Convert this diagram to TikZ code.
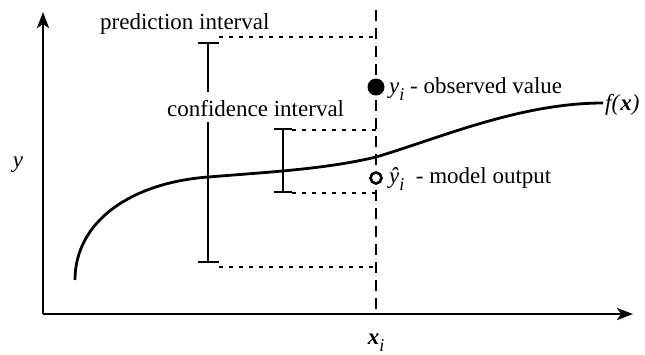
\documentclass[tikz,border=0pt]{standalone}
\usepackage{fontspec}
\setmainfont{Liberation Serif}
\usetikzlibrary{arrows.meta}
\newcommand\subidx{\raisebox{-7pt}{\fontsize{18}{18}\selectfont\textit{i}}}
\begin{document}
\begin{tikzpicture}[x=1pt,y=-1pt,
  lbl/.style={font=\fontsize{23}{27}\selectfont, inner sep=0pt},
  axis/.style={line width=2.8pt, -{Stealth[length=16pt,width=12pt,inset=4pt]}},
  bar/.style={line width=2.8pt},
  dotline/.style={line width=2.4pt, dash pattern=on 4pt off 6pt},
  dashline/.style={line width=2.4pt, dash pattern=on 11pt off 7pt},
  curve/.style={line width=2.8pt}]
\useasboundingbox (0,0) rectangle (645,354);
% axes
\coordinate (O) at (43,314);
\coordinate (ytip) at (43,12);
\coordinate (xtip) at (633,314);
\draw[axis] (O) -- (ytip);
\draw[axis] (O) -- (xtip);
% vertical dashed line at x_i
\coordinate (vtop) at (376,10);
\coordinate (vbot) at (376,314);
\draw[dashline] (vtop) -- (vbot);
% dotted guide lines
\coordinate (p1) at (219,37);  \coordinate (p1e) at (376,37);
\coordinate (p2) at (219,267); \coordinate (p2e) at (376,267);
\coordinate (c1) at (292,130); \coordinate (c1e) at (376,130);
\coordinate (c2) at (292,193); \coordinate (c2e) at (376,193);
\draw[dotline] (p1) -- (p1e);
\draw[dotline] (p2) -- (p2e);
\draw[dotline] (c1) -- (c1e);
\draw[dotline] (c2) -- (c2e);
% curve
\draw[curve] (75,280) .. controls (75,222) and (130,183) .. (208,177)
  .. controls (270,172) and (326,169) .. (376,157)
  .. controls (440,138) and (520,103) .. (603,103);
% prediction interval bar
\coordinate (pt) at (208,43); \coordinate (pb) at (208,262);
\coordinate (pm1) at (208,92); \coordinate (pm2) at (208,122);
\draw[bar] (pt) -- (pm1);
\draw[bar] (pm2) -- (pb);
\draw[bar] (198,43) -- (219,43);
\draw[bar] (198,262) -- (219,262);
% confidence interval bar
\coordinate (ct) at (283,129); \coordinate (cb) at (283,192);
\draw[bar] (ct) -- (cb);
\draw[bar] (274,129) -- (292,129);
\draw[bar] (274,192) -- (292,192);
% points
\node[circle, fill=black, inner sep=0pt, minimum size=17pt] (obs) at (376,87) {};
\node[circle, draw=black, fill=white, line width=2.6pt, inner sep=0pt, minimum size=11pt] (mod) at (376,178) {};
% labels
\node[lbl, anchor=base west] (plab) at (100,29) {prediction interval};
\node[lbl, anchor=base west] (clab) at (167,116) {confidence interval};
\node[lbl, anchor=base west] (olab) at (389,93) {\textit{y}\subidx\ - observed value};
\node[lbl, anchor=base west] (mlab) at (389,183) {\textit{ŷ}\subidx\ \ - model output};
\node[lbl, anchor=base west] (flab) at (605,110) {\textit{f(}\textbf{\textit{x}}\textit{)}};
\node[lbl, anchor=base] (xlab) at (376,344) {\textbf{\textit{x}}\subidx};
\node[lbl, anchor=base] (ylab) at (18,167) {\textit{y}};
\end{tikzpicture}
\end{document}
